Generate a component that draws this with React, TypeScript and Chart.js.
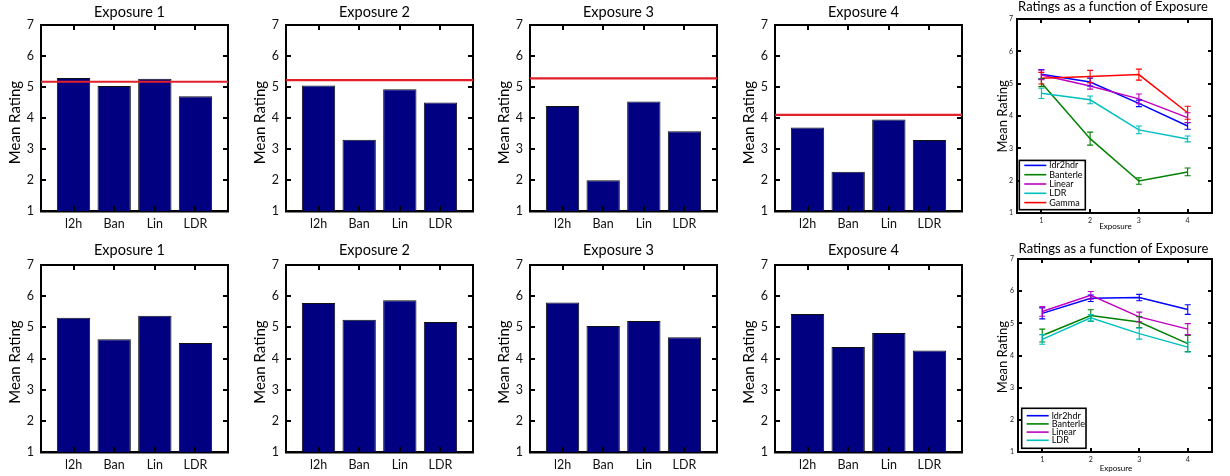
import React, { useEffect, useRef } from 'react';
import { Chart, registerables } from 'chart.js';

Chart.register(...registerables);

const FONT = 'Lato, "Open Sans", "DejaVu Sans", sans-serif';

// ---------------- data ----------------
const methodPos = [1, 2, 3, 4];
const methodLabels = ['l2h', 'Ban', 'Lin', 'LDR'];
const exposures = [1, 2, 3, 4];
const exposureTitles = ['Exposure 1', 'Exposure 2', 'Exposure 3', 'Exposure 4'];
const seriesNames = ['ldr2hdr', 'Banterle', 'Linear', 'LDR', 'Gamma'];
const seriesColors = ['#0000ff', '#008000', '#bf00bf', '#00bfbf', '#ff0000'];

// Study 1 (top row)
const s1Ldr2hdr = [5.29, 5.05, 4.39, 3.69];
const s1Banterle = [5.03, 3.3, 1.99, 2.27];
const s1Linear = [5.27, 4.93, 4.53, 3.95];
const s1LDR = [4.7, 4.5, 3.57, 3.29];
const s1Gamma = [5.17, 5.22, 5.28, 4.1];
const s1Ldr2hdrErr = [0.15, 0.12, 0.1, 0.1];
const s1BanterleErr = [0.12, 0.2, 0.1, 0.12];
const s1LinearErr = [0.15, 0.1, 0.15, 0.15];
const s1LDRErr = [0.16, 0.12, 0.12, 0.09];
const s1GammaErr = [0.18, 0.19, 0.17, 0.2];

// Study 2 (bottom row)
const s2Ldr2hdr = [5.31, 5.78, 5.8, 5.43];
const s2Banterle = [4.62, 5.24, 5.04, 4.37];
const s2Linear = [5.37, 5.87, 5.2, 4.82];
const s2LDR = [4.5, 5.17, 4.68, 4.26];
const s2Ldr2hdrErr = [0.17, 0.1, 0.1, 0.15];
const s2BanterleErr = [0.2, 0.18, 0.17, 0.25];
const s2LinearErr = [0.15, 0.12, 0.15, 0.17];
const s2LDRErr = [0.15, 0.1, 0.17, 0.15];

// ---------------- plugins ----------------
const textPlugin = {
  id: 'panelText',
  afterDraw(chart: any, _a: any, o: any) {
    const { ctx, chartArea: a } = chart;
    ctx.save();
    ctx.fillStyle = '#000';
    ctx.textAlign = 'center';
    ctx.textBaseline = 'middle';
    ctx.font = `${o.titleSize}px ${FONT}`;
    ctx.fillText(o.title, (a.left + a.right) / 2 + o.titleDx, a.top - o.titleGap);
    if (o.xLabel) {
      ctx.font = `${o.xLabelSize}px ${FONT}`;
      ctx.fillText(o.xLabel, (a.left + a.right) / 2 + 1, a.bottom + o.xLabelGap);
    }
    ctx.translate(a.left - o.yLabelOff, (a.top + a.bottom) / 2 + o.yLabelDy);
    ctx.rotate(-Math.PI / 2);
    ctx.font = `${o.yLabelSize}px ${FONT}`;
    ctx.fillText(o.yLabel, 0, 0);
    ctx.restore();
  },
};

// inward tick marks on all four sides, placed through the chart's own scales
const inwardTicksPlugin = {
  id: 'inwardTicks',
  afterDraw(chart: any, _a: any, o: any) {
    const { ctx, chartArea: a } = chart;
    const xs = chart.scales.x;
    const ys = chart.scales.y;
    const len = o && o.len ? o.len : 4;
    const w = o && o.width ? o.width : 2;
    ctx.save();
    ctx.fillStyle = '#000000';
    ys.ticks.forEach((t: any) => {
      const y = Math.round(ys.getPixelForValue(t.value) - w / 2);
      ctx.fillRect(Math.round(a.left), y, len + 1, w);
      ctx.fillRect(Math.round(a.right) - len - 1, y, len + 1, w);
    });
    xs.ticks.forEach((t: any) => {
      const x = Math.round(xs.getPixelForValue(t.value) - w / 2);
      ctx.fillRect(x, Math.round(a.top), w, len + 1);
      ctx.fillRect(x, Math.round(a.bottom) - len - 1, w, len + 1);
    });
    ctx.restore();
  },
};

const errorBarPlugin = {
  id: 'errorBars',
  afterDatasetsDraw(chart: any, _a: any, o: any) {
    const { ctx } = chart;
    const ys = chart.scales.y;
    const cap = o && o.cap ? o.cap : 3;
    chart.data.datasets.forEach((ds: any, i: number) => {
      if (!ds.errors) return;
      const meta = chart.getDatasetMeta(i);
      ctx.save();
      ctx.strokeStyle = ds.borderColor;
      ctx.lineWidth = 1.1;
      meta.data.forEach((pt: any, j: number) => {
        const d = ds.data[j];
        const v = typeof d === 'number' ? d : d.y;
        const e = ds.errors[j];
        const y1 = ys.getPixelForValue(v - e);
        const y2 = ys.getPixelForValue(v + e);
        const x = pt.x;
        ctx.beginPath();
        ctx.moveTo(x, y1);
        ctx.lineTo(x, y2);
        ctx.moveTo(x - cap, y1);
        ctx.lineTo(x + cap, y1);
        ctx.moveTo(x - cap, y2);
        ctx.lineTo(x + cap, y2);
        ctx.stroke();
      });
      ctx.restore();
    });
  },
};

const legendBoxPlugin = {
  id: 'legendBox',
  afterDraw(chart: any, _a: any, o: any) {
    const { ctx, chartArea: a } = chart;
    const ds = chart.data.datasets;
    const x0 = a.left + o.dx;
    const y0 = a.bottom - o.dy - o.height;
    ctx.save();
    ctx.fillStyle = '#fff';
    ctx.fillRect(x0, y0, o.width, o.height);
    ctx.strokeStyle = '#000';
    ctx.lineWidth = 1.6;
    ctx.strokeRect(x0, y0, o.width, o.height);
    ctx.font = `${o.fontSize}px ${FONT}`;
    ctx.textBaseline = 'middle';
    ctx.textAlign = 'left';
    ds.forEach((d: any, i: number) => {
      const y = y0 + o.firstRow + o.rowH * i;
      ctx.strokeStyle = d.borderColor;
      ctx.lineWidth = 1.6;
      ctx.beginPath();
      ctx.moveTo(x0 + 5, y);
      ctx.lineTo(x0 + 27, y);
      ctx.stroke();
      ctx.fillStyle = '#000';
      ctx.fillText(d.label, x0 + 30, y);
    });
    ctx.restore();
  },
};

// ---------------- axis helpers ----------------
type Geom = { PL: number; PT: number; PW: number; PH: number; L: number; R: number; T: number; B: number };

function frameAxes(
  xmin: number,
  xmax: number,
  xTicks: number[],
  frameWidth: number,
  bottomWidth: number,
  g: Geom,
  xTickOpts: any,
  yTickOpts: any
) {
  const noGrid = { display: false, drawTicks: false, drawOnChartArea: false };
  return {
    x: {
      type: 'linear',
      position: 'bottom',
      min: xmin,
      max: xmax,
      offset: false,
      bounds: 'data',
      grid: { ...noGrid, offset: false },
      border: { display: true, color: '#000', width: bottomWidth },
      afterDataLimits: (s: any) => {
        s.min = xmin;
        s.max = xmax;
      },
      afterBuildTicks: (s: any) => {
        s.ticks = xTicks.map((v) => ({ value: v }));
      },
      afterFit: (s: any) => {
        s.height = g.B;
      },
      ticks: { autoSkip: false, maxRotation: 0, ...xTickOpts },
    },
    x2: {
      type: 'linear',
      axis: 'x',
      position: 'top',
      min: xmin,
      max: xmax,
      offset: false,
      bounds: 'data',
      grid: { ...noGrid, offset: false },
      border: { display: true, color: '#000', width: frameWidth },
      afterDataLimits: (s: any) => {
        s.min = xmin;
        s.max = xmax;
      },
      afterFit: (s: any) => {
        s.height = 0;
      },
      ticks: { display: false },
    },
    y: {
      type: 'linear',
      position: 'left',
      min: 1,
      max: 7,
      grid: noGrid,
      border: { display: true, color: '#000', width: frameWidth },
      afterFit: (s: any) => {
        s.width = g.L;
      },
      ticks: { stepSize: 1, ...yTickOpts },
    },
    y2: {
      type: 'linear',
      axis: 'y',
      position: 'right',
      min: 1,
      max: 7,
      grid: noGrid,
      border: { display: true, color: '#000', width: frameWidth },
      afterFit: (s: any) => {
        s.width = 0;
      },
      ticks: { display: false, stepSize: 1 },
    },
  };
}

// ---------------- config builders ----------------
const BAR_XMIN = 0.2;
const BAR_XMAX = 4.8;

function barConfig(title: string, vals: number[], refVal: number | null, g: Geom, titleGap: number, yDy: number) {
  const datasets: any[] = [];
  if (refVal !== null) {
    datasets.push({
      type: 'line',
      data: [
        { x: BAR_XMIN, y: refVal },
        { x: BAR_XMAX, y: refVal },
      ],
      borderColor: '#e3202a',
      borderWidth: 2.2,
      pointRadius: 0,
      xAxisID: 'x',
      yAxisID: 'y',
      order: 0,
    });
  }
  datasets.push({
    type: 'bar',
    data: methodPos.map((x, k) => ({ x, y: vals[k] })),
    backgroundColor: '#000080',
    borderColor: '#111',
    borderWidth: 1,
    borderSkipped: false,
    barPercentage: 0.82,
    categoryPercentage: 1,
    xAxisID: 'x',
    yAxisID: 'y',
    order: 1,
  });
  return {
    type: 'bar',
    data: { datasets },
    options: {
      responsive: false,
      animation: false,
      devicePixelRatio: 1,
      layout: { padding: { left: 0, right: g.R, top: g.T, bottom: 0 } },
      plugins: {
        legend: { display: false },
        tooltip: { enabled: false },
        title: { display: false },
        inwardTicks: { len: 4, width: 2 },
        panelText: {
          title,
          titleSize: 14.5,
          titleDx: -5,
          titleGap,
          yLabel: 'Mean Rating',
          yLabelSize: 15,
          yLabelOff: 26,
          yLabelDy: yDy,
        },
      },
      scales: frameAxes(
        BAR_XMIN,
        BAR_XMAX,
        methodPos,
        2,
        2.5,
        g,
        {
          padding: 5.5,
          color: '#111',
          font: { family: FONT, size: 12.5 },
          callback: (v: number) => methodLabels[methodPos.indexOf(v)] ?? '',
        },
        { padding: 7, color: '#111', font: { family: FONT, size: 12.5 } }
      ),
    },
    plugins: [inwardTicksPlugin, textPlugin],
  };
}

function lineConfig(
  series: number[][],
  errs: number[][],
  names: string[],
  g: Geom,
  titleGap: number,
  yOff: number,
  yDy: number,
  xLabelGap: number,
  legend: any
) {
  const datasets = series.map((vals, i) => ({
    type: 'line',
    label: names[i],
    data: exposures.map((x, k) => ({ x, y: vals[k] })),
    errors: errs[i],
    borderColor: seriesColors[i],
    borderWidth: 1.5,
    pointRadius: 0,
    xAxisID: 'x',
    yAxisID: 'y',
    order: -i,
  }));
  return {
    type: 'line',
    data: { datasets },
    options: {
      responsive: false,
      animation: false,
      devicePixelRatio: 1,
      layout: { padding: { left: 0, right: g.R, top: g.T, bottom: 0 } },
      plugins: {
        legend: { display: false },
        tooltip: { enabled: false },
        title: { display: false },
        errorBars: { cap: 3 },
        inwardTicks: { len: 3, width: 2 },
        legendBox: legend,
        panelText: {
          title: 'Ratings as a function of Exposure',
          titleSize: 13,
          titleDx: -1.5,
          titleGap,
          xLabel: 'Exposure',
          xLabelSize: 8,
          xLabelGap,
          yLabel: 'Mean Rating',
          yLabelSize: 13,
          yLabelOff: yOff,
          yLabelDy: yDy,
        },
      },
      scales: frameAxes(
        0.5,
        4.5,
        exposures,
        2,
        2,
        g,
        { padding: 3.8, color: '#222', font: { family: FONT, size: 7 } },
        { padding: 4, color: '#222', font: { family: FONT, size: 7 } }
      ),
    },
    plugins: [errorBarPlugin, inwardTicksPlugin, textPlugin, legendBoxPlugin],
  };
}

// ---------------- components ----------------
function ChartCanvas({ g, config }: { g: Geom; config: any }) {
  const ref = useRef<HTMLCanvasElement>(null);
  const W = g.L + g.PW + g.R;
  const H = g.T + g.PH + g.B;
  useEffect(() => {
    const chart = new Chart(ref.current as HTMLCanvasElement, config);
    return () => chart.destroy();
  }, []);
  return (
    <canvas
      ref={ref}
      width={W}
      height={H}
      style={{ position: 'absolute', left: g.PL - g.L, top: g.PT - g.T, width: W, height: H }}
    />
  );
}

const barLefts = [41, 286, 530, 775];

export default function App() {
  const topGeoms: Geom[] = barLefts.map((PL) => ({ PL, PT: 25, PW: 187, PH: 186, L: 41, R: 10, T: 25, B: 24 }));
  const botGeoms: Geom[] = barLefts.map((PL) => ({ PL, PT: 265, PW: 187, PH: 187, L: 41, R: 10, T: 25, B: 22 }));
  const rTop: Geom = { PL: 1017, PT: 19, PW: 195, PH: 194, L: 30, R: 12, T: 19, B: 20 };
  const rBot: Geom = { PL: 1018, PT: 259, PW: 194, PH: 193, L: 30, R: 12, T: 20, B: 22 };

  const s1ByExposure = exposures.map((_, i) => [s1Ldr2hdr[i], s1Banterle[i], s1Linear[i], s1LDR[i]]);
  const s2ByExposure = exposures.map((_, i) => [s2Ldr2hdr[i], s2Banterle[i], s2Linear[i], s2LDR[i]]);

  return (
    <div
      style={{
        position: 'fixed',
        left: 0,
        top: 0,
        width: 1230,
        height: 476,
        background: '#fff',
        overflow: 'hidden',
      }}
    >
      {topGeoms.map((g, i) => (
        <ChartCanvas
          key={'t' + i}
          g={g}
          config={barConfig(exposureTitles[i], s1ByExposure[i], s1Gamma[i], g, 13, 4.5)}
        />
      ))}
      {botGeoms.map((g, i) => (
        <ChartCanvas
          key={'b' + i}
          g={g}
          config={barConfig(exposureTitles[i], s2ByExposure[i], null, g, 15, 3.6)}
        />
      ))}
      <ChartCanvas
        g={rTop}
        config={lineConfig(
          [s1Ldr2hdr, s1Banterle, s1Linear, s1LDR, s1Gamma],
          [s1Ldr2hdrErr, s1BanterleErr, s1LinearErr, s1LDRErr, s1GammaErr],
          seriesNames,
          rTop,
          12,
          14,
          0.4,
          13.5,
          { dx: 2.3, dy: 3.3, width: 66, height: 49.3, firstRow: 5, rowH: 9.3, fontSize: 9 }
        )}
      />
      <ChartCanvas
        g={rBot}
        config={lineConfig(
          [s2Ldr2hdr, s2Banterle, s2Linear, s2LDR],
          [s2Ldr2hdrErr, s2BanterleErr, s2LinearErr, s2LDRErr],
          seriesNames.slice(0, 4),
          rBot,
          10,
          15.3,
          1.6,
          16,
          { dx: 3.7, dy: 3.7, width: 64.3, height: 40, firstRow: 7.4, rowH: 8.2, fontSize: 9 }
        )}
      />
    </div>
  );
}
